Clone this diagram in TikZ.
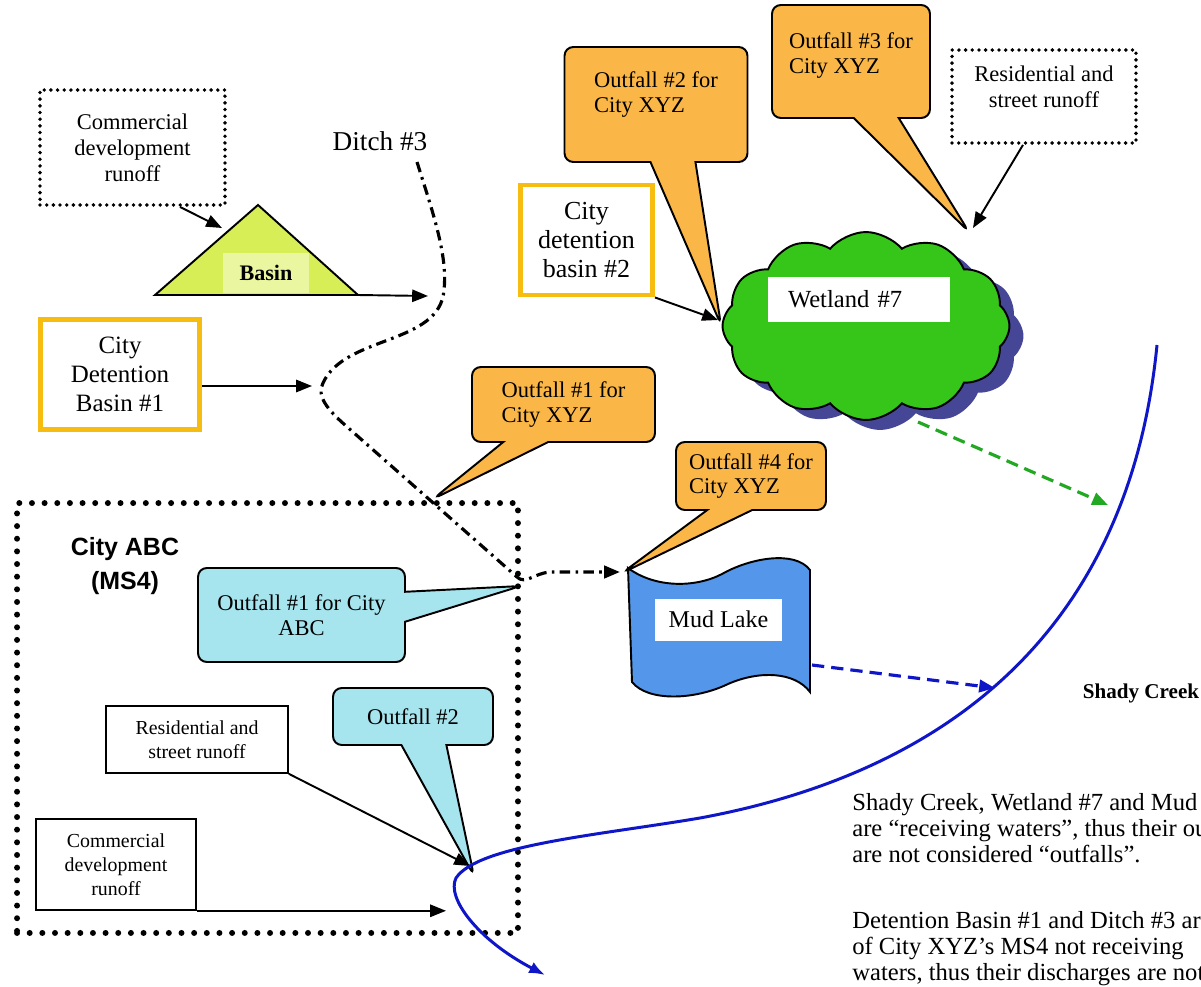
\documentclass[tikz,border=0pt]{standalone}
\usepackage{fontspec}
\setmainfont{Liberation Serif}
\newfontfamily\labelsans{Liberation Sans}
\usetikzlibrary{shapes.callouts,shapes.symbols,shadows,arrows.meta,positioning}

\definecolor{outfallorange}{RGB}{250,182,70}
\definecolor{outfallcyan}{RGB}{166,228,238}
\definecolor{detgold}{RGB}{247,188,16}
\definecolor{basinlime}{RGB}{216,238,86}
\definecolor{basinpale}{RGB}{234,246,160}
\definecolor{wetgreen}{RGB}{54,198,26}
\definecolor{wetshadow}{RGB}{70,70,150}
\definecolor{lakeblue}{RGB}{84,150,234}
\definecolor{creekblue}{RGB}{14,22,200}
\definecolor{spillgreen}{RGB}{34,168,34}

\tikzset{
every node/.style={inner sep=0pt}, % boxes are sized by hand
runoff/.style={draw, line width=.9pt, fill=white, align=center, font=\fontsize{11.3}{13.6}\selectfont},
dottedrunoff/.style={draw, line width=2.2pt, dash pattern=on 0pt off 3.8pt, line cap=round, align=center, font=\fontsize{12.8}{14.7}\selectfont},
abcbound/.style={draw, line width=3.4pt, dash pattern=on 0pt off 7.2pt, line cap=round},
detention/.style={draw=detgold, line width=2.8pt, fill=white, align=center, font=\fontsize{14.2}{16.4}\selectfont},
outfall/.style={rectangle callout, draw, line width=1.1pt, fill=outfallorange, rounded corners=5pt, callout pointer width=.9cm, align=left, font=\fontsize{12.8}{14.2}\selectfont},
abcoutfall/.style={outfall, fill=outfallcyan, align=center},
water/.style={fill=white, font=\fontsize{14}{16}\selectfont},
flow/.style={-{Triangle[length=9pt,width=7pt]}, line width=1.1pt},
ditch/.style={flow, line width=1.8pt, dash pattern=on 6pt off 3pt on 1.5pt off 3pt},
spill/.style={-{Triangle[length=9pt,width=7pt]}, line width=1.8pt, dash pattern=on 7pt off 4pt},
}

\begin{document}
\begin{tikzpicture}[x=0.02cm, y=-0.02cm]
\useasboundingbox (0,0) rectangle (1201,987);
\clip (0,0) rectangle (1201,987);

% City XYZ, upper left
\node[dottedrunoff, minimum width=3.7cm, minimum height=2.3cm] (comtop) at (132.5,147.5) {Commercial\\development\\runoff};
\coordinate (basinL) at (155,295);
\coordinate (basinT) at (258,205);
\coordinate (basinR) at (358,295);
\filldraw[fill=basinlime, line width=1.1pt] (basinL) -- (basinT) -- (basinR) -- cycle;
\node[fill=basinpale, minimum width=1.74cm, minimum height=.8cm, font=\bfseries\fontsize{12.6}{14}\selectfont] (basin) at (266,273) {Basin};
\node[font=\fontsize{15.5}{18}\selectfont] (ditchname) at (380,141) {Ditch \#3};
\node[detention, minimum width=3.18cm, minimum height=2.2cm] (det1) at (120,374.5) {City\\Detention\\Basin \#1};

\coordinate (basinin) at (222,228);
\coordinate (ditchA) at (428,296);
\coordinate (ditchin) at (312,386);
\draw[flow] ([xshift=.95cm]comtop.south) -- (basinin);
\draw[flow] (basinR) -- (ditchA);
\draw[flow] (det1.east |- ditchin) -- (ditchin);

% the ditch
\coordinate (ditchtop) at (417,162);
\coordinate (ditchbend) at (444,290);
\coordinate (ditchleft) at (323,383);
\coordinate (ditchabc) at (517,577);
\coordinate (ditchend) at (620,572);
\draw[ditch] (ditchtop) .. controls (432,210) and (448,255) .. (ditchbend)
  .. controls (440,345) and (345,335) .. (ditchleft)
  .. controls (316,396) and (328,410) .. (345,425) -- (ditchabc)
  .. controls (525,585) and (535,573) .. (550,572) -- (ditchend);

\node[outfall, minimum width=3.66cm, minimum height=1.5cm, callout absolute pointer={(433,499)}] (of1xyz) at (563.5,404.5) {Outfall \#1 for\\City XYZ};

% City ABC
\node[abcbound, minimum width=10.02cm, minimum height=8.6cm] (cityabc) at (267.5,718) {};
\node[font=\labelsans\bfseries\fontsize{14.2}{19.5}\selectfont, align=center] (abcname) at (125,566) {City ABC\\(MS4)};
\node[abcoutfall, callout pointer width=.6cm, minimum width=4.14cm, minimum height=1.88cm, callout absolute pointer={(521,586)}] (of1abc) at (301.5,615) {Outfall \#1 for City\\ABC};
\node[abcoutfall, minimum width=3.2cm, minimum height=1.14cm, callout absolute pointer={(474,876)}] (of2abc) at (413,716.5) {Outfall \#2};
\node[runoff, minimum width=3.64cm, minimum height=1.34cm] (resabc) at (197,739.5) {Residential and\\street runoff};
\node[runoff, minimum width=3.2cm, minimum height=1.82cm] (comabc) at (116,864.5) {Commercial\\development\\runoff};
\coordinate (abcout2) at (470,866);
\coordinate (abcout3) at (446,911);
\draw[flow] (resabc.south east) -- (abcout2);
\draw[flow] (comabc.south east) -- (comabc.south east -| abcout3);

% Wetland #7
\node[cloud, cloud puffs=12, cloud puff arc=100, aspect=1.55, draw, line width=1.1pt, fill=wetgreen, minimum width=5.74cm, minimum height=3.76cm,
  drop shadow={shadow xshift=.28cm, shadow yshift=-.2cm, fill=wetshadow, opacity=1}] (wetland) at (866,326) {};
\node[water, minimum width=3.64cm, minimum height=.9cm, text width=2.84cm, inner xsep=.4cm, align=left] (wetname) at (859,299.5) {Wetland \#7};
\node[outfall, minimum width=3.66cm, minimum height=2.3cm, text depth=.5cm, callout absolute pointer={(721,325)}] (of2xyz) at (656,104.5) {Outfall \#2 for\\City XYZ};
\node[outfall, minimum width=3.16cm, minimum height=2.26cm, text depth=.34cm, callout absolute pointer={(969,232)}] (of3xyz) at (851,61.5) {Outfall \#3 for\\City XYZ};
\node[dottedrunoff, minimum width=3.68cm, minimum height=1.86cm, text depth=.38cm] (restop) at (1044,96.5) {Residential and\\street runoff};
\node[detention, minimum width=2.64cm, minimum height=2.2cm, font=\fontsize{14.8}{16.6}\selectfont] (det2) at (586.5,240) {City\\detention\\basin \#2};
\coordinate (wetin2) at (718,320);
\coordinate (wetin3) at (973,228);
\draw[flow] (det2.south east) -- (wetin2);
\draw[flow] ([xshift=-.42cm]restop.south) -- (wetin3);

% Mud Lake
\coordinate (lakeTL) at (628,568);
\filldraw[fill=lakeblue, line width=1.1pt] (lakeTL) .. controls (655,588) and (695,588) .. (722,574)
  .. controls (750,558) and (795,550) .. (810,570) -- (810,692)
  .. controls (795,672) and (760,670) .. (728,684)
  .. controls (695,700) and (648,702) .. (632,682) -- cycle;
\node[water, minimum width=2.54cm, minimum height=.84cm, font=\fontsize{13.7}{16}\selectfont] (mudlake) at (718.5,619.5) {Mud Lake};
\node[outfall, minimum width=3cm, minimum height=1.36cm, callout absolute pointer={(622,573)}] (of4xyz) at (751,476) {Outfall \#4 for\\City XYZ};

% Shady Creek
\coordinate (creektop) at (1157,345);
\coordinate (creekend) at (545,975);
\draw[creekblue, line width=1.7pt, -{Latex[length=9pt,width=7pt]}] (creektop) .. controls (1130,620) and (960,770) .. (700,818)
  .. controls (600,835) and (478,845) .. (456,878)
  .. controls (446,898) and (478,940) .. (creekend);
\coordinate (wetout) at (918,422);
\coordinate (creekwet) at (1108,505);
\coordinate (lakeout) at (812,665);
\coordinate (creeklake) at (995,688);
\draw[spill, spillgreen] (wetout) -- (creekwet);
\draw[spill, creekblue] (lakeout) -- (creeklake);
\node[font=\bfseries\fontsize{12}{14}\selectfont] (creekname) at (1141,693) {Shady Creek};

% notes
\node[anchor=north west, align=left, font=\fontsize{14}{14.8}\selectfont] (note1) at (852,793) {Shady Creek, Wetland \#7 and Mud Lake\\are ``receiving waters'', thus their outlets\\are not considered ``outfalls''.};
\node[anchor=north west, align=left, font=\fontsize{14}{14.8}\selectfont] (note2) at (852,911) {Detention Basin \#1 and Ditch \#3 are part\\of City XYZ's MS4 not receiving\\waters, thus their discharges are not};
\end{tikzpicture}
\end{document}
